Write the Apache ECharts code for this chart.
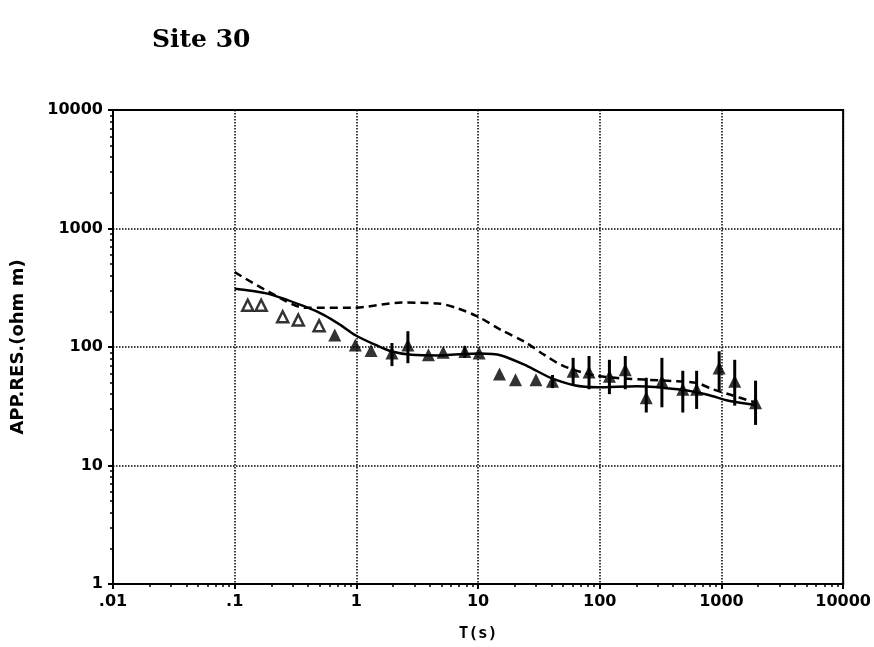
<!DOCTYPE html>
<html>
<head>
<meta charset="utf-8">
<script src="https://cdn.jsdelivr.net/npm/echarts@6/dist/echarts.min.js"></script>
<style>
  html, body { margin: 0; padding: 0; background: #fff; }
  #chart { width: 874px; height: 647px; }
</style>
</head>
<body>
<div id="chart"></div>
<script>
// 刻度标签
const xTickLabels = ['.01', '.1', '1', '10', '100', '1000', '10000'];
const yTickLabels = ['1', '10', '100', '1000', '10000'];

// 空心三角 (短周期)
const openT = [0.128, 0.165, 0.248, 0.333, 0.494];
const openRho = [225, 225, 180, 169, 151];

// 实心三角
const filledT = [0.664, 0.98, 1.32, 1.96, 2.65, 3.91, 5.17, 7.78, 10.2, 15.0, 20.3, 29.9,
  40.9, 60.4, 81.6, 120, 162, 241, 324, 481, 625, 957, 1285, 1906];
const filledRho = [126, 104, 93.6, 88.8, 104, 85.9, 90.3, 91.6, 88.8, 59.2, 53.0, 53.0,
  51.4, 62.4, 61.5, 56.6, 64.3, 37.3, 51.4, 44.0, 44.0, 66.4, 51.4, 33.8];

// 误差棒
const errT = [1.96, 2.65, 7.78, 40.9, 60.4, 81.6, 120, 162, 241, 324, 481, 625, 957, 1285, 1906];
const errLow = [69, 73, 81, 45, 47, 44, 40, 44, 28, 31, 28, 30, 43, 32, 22];
const errHigh = [108, 136, 102, 58, 81, 84, 78, 84, 55, 81, 63, 63, 92, 78, 52];

// 实线模型
const modelT = [0.1, 0.186, 0.38, 0.543, 0.743, 0.99, 1.44, 1.96, 2.84, 4.71, 6.03, 10.3,
  15.5, 25.6, 39.6, 61.5, 95.5, 202, 457, 755, 1170, 1905];
const modelRho = [310, 282, 219, 186, 153, 125, 104, 91.6, 85.9, 84.9, 85.9, 88.0,
  84.9, 68.7, 54.8, 47.6, 45.8, 46.7, 43.7, 39.7, 35.0, 32.4];

// 虚线模型
const dashT = [0.1, 0.193, 0.385, 0.918, 2.35, 4.71, 6.87, 10, 15.5, 24.0, 35.0, 51.0,
  95.5, 230, 430, 625, 856, 1170, 1905];
const dashRho = [428, 291, 214, 214, 237, 233, 211, 180, 139, 111, 85.9, 68.7,
  57.0, 53.1, 51.4, 49.8, 43.8, 39.7, 33.9];

const zip = (a, b) => a.map((v, i) => [v, b[i]]);
const labelFont = { color: '#000', fontFamily: 'DejaVu Sans', fontWeight: 'bold', fontSize: 16 };

const chart = echarts.init(document.getElementById('chart'));

const option = {
  animation: false,
  backgroundColor: '#fff',
  title: {
    text: 'Site 30',
    left: 147,
    top: 23,
    textStyle: { fontFamily: 'DejaVu Serif', fontWeight: 'bold', fontSize: 25, color: '#000' }
  },
  grid: {
    left: 113, right: 29, top: 110, bottom: 57,
    show: true, borderColor: '#000', borderWidth: 2
  },
  xAxis: {
    type: 'log', logBase: 10, min: 0.01, max: 10000,
    name: 'T(s)', nameLocation: 'middle', nameGap: 42,
    nameTextStyle: { color: '#000', fontFamily: 'DejaVu Sans Mono', fontWeight: 'bold', fontSize: 16 },
    axisLine: { lineStyle: { color: '#000', width: 2 } },
    axisTick: { length: 5, lineStyle: { color: '#000', width: 2 } },
    minorTick: { show: true, splitNumber: 9, length: 3, lineStyle: { color: '#000', width: 1.5 } },
    splitLine: { show: true, lineStyle: { color: '#000', type: 'dotted', width: 1.5 } },
    axisLabel: Object.assign({ margin: 10, formatter: v => xTickLabels[Math.round(Math.log10(v)) + 2] }, labelFont)
  },
  yAxis: {
    type: 'log', logBase: 10, min: 1, max: 10000,
    name: 'APP.RES.(ohm m)', nameLocation: 'middle', nameGap: 86,
    nameTextStyle: { color: '#000', fontFamily: 'DejaVu Sans', fontWeight: 'bold', fontSize: 18 },
    axisLine: { lineStyle: { color: '#000', width: 2 } },
    axisTick: { length: 5, lineStyle: { color: '#000', width: 2 } },
    minorTick: { show: true, splitNumber: 9, length: 3, lineStyle: { color: '#000', width: 1.5 } },
    splitLine: { show: true, lineStyle: { color: '#000', type: 'dotted', width: 1.5 } },
    axisLabel: Object.assign({ margin: 10, formatter: v => yTickLabels[Math.round(Math.log10(v))] }, labelFont)
  },
  series: [
    {
      type: 'custom',
      name: 'err',
      data: errT.map((t, i) => [t, errLow[i], errHigh[i]]),
      encode: { x: 0, y: [1, 2] },
      z: 2,
      renderItem: function (params, api) {
        const lo = api.coord([api.value(0), api.value(1)]);
        const hi = api.coord([api.value(0), api.value(2)]);
        return {
          type: 'line',
          shape: { x1: lo[0], y1: lo[1], x2: hi[0], y2: hi[1] },
          style: { stroke: '#000', lineWidth: 3 }
        };
      }
    },
    {
      type: 'line',
      name: 'model',
      data: zip(modelT, modelRho),
      smooth: 0.3,
      showSymbol: false,
      z: 3,
      lineStyle: { color: '#000', width: 2.5 }
    },
    {
      type: 'line',
      name: 'model2',
      data: zip(dashT, dashRho),
      smooth: 0.3,
      showSymbol: false,
      z: 3,
      lineStyle: { color: '#000', width: 2.5, type: [8, 5] }
    },
    {
      type: 'scatter',
      name: 'open',
      data: zip(openT, openRho),
      symbol: 'triangle',
      symbolSize: 11,
      z: 4,
      itemStyle: { color: '#fff', borderColor: '#000', borderWidth: 2.5 }
    },
    {
      type: 'scatter',
      name: 'filled',
      data: zip(filledT, filledRho),
      symbol: 'triangle',
      symbolSize: 13,
      z: 4,
      itemStyle: { color: '#000' }
    }
  ]
};

option && chart.setOption(option);
</script>
</body>
</html>
